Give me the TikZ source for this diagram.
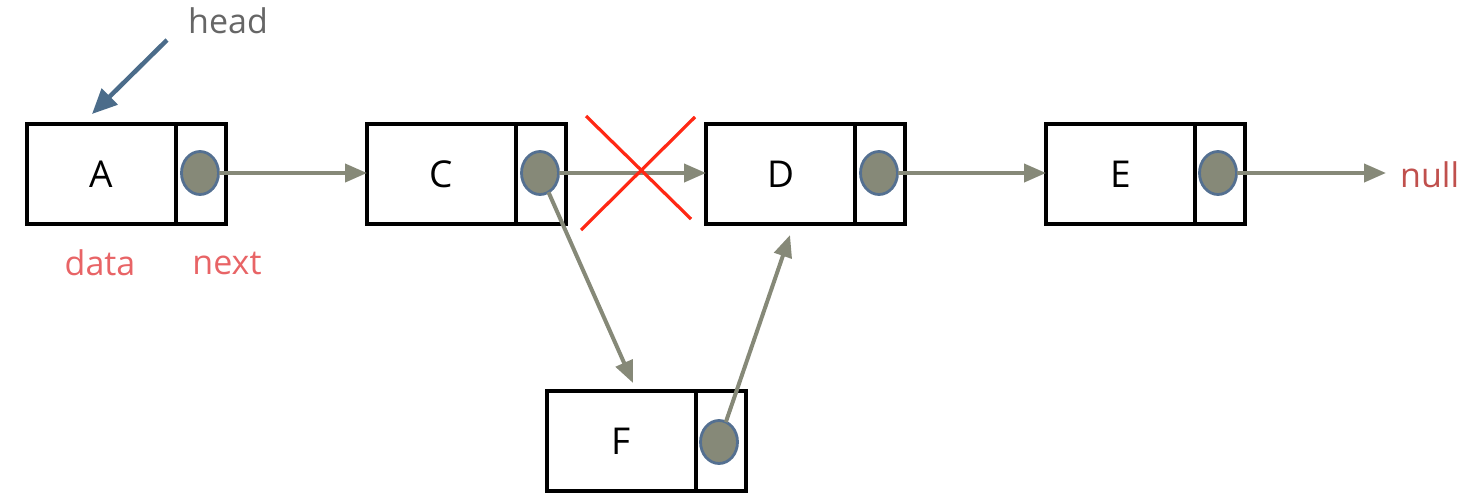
\documentclass[tikz,border=0pt]{standalone}
\usepackage{fontspec}
\setmainfont{Open Sans}
\usetikzlibrary{arrows.meta,shapes.geometric}
\definecolor{ptr}{RGB}{134,137,120}
\definecolor{ptrb}{RGB}{84,112,145}
\definecolor{headc}{RGB}{75,108,138}
\definecolor{lblc}{RGB}{232,100,102}
\definecolor{nullc}{RGB}{192,80,77}
\definecolor{xred}{RGB}{255,40,20}
\definecolor{graytxt}{RGB}{102,102,102}
\begin{document}
\begin{tikzpicture}[x=1pt,y=-1pt]
\tikzset{
  databox/.style={draw, line width=3.8pt, outer sep=0pt, inner sep=0pt, minimum width=149pt, minimum height=100pt, anchor=north west, font=\fontsize{37}{40}\selectfont},
  nextbox/.style={draw, line width=3.8pt, outer sep=0pt, inner sep=0pt, minimum width=50pt, minimum height=100pt, anchor=west},
  dot/.style={ellipse, draw=ptrb, line width=2.8pt, fill=ptr, minimum width=37pt, minimum height=43pt, inner sep=0pt, outer sep=0pt},
  link/.style={draw=ptr, line width=4pt, -{Triangle[length=22pt,width=18pt]}},
  headlink/.style={draw=headc, line width=4.5pt, -{Triangle[length=25pt,width=22pt]}},
  lbl/.style={font=\fontsize{34}{38}\selectfont, inner sep=0pt},
  cross/.style={draw=xred, line width=3.2pt},
}
\useasboundingbox (0,0) rectangle (1466,496);
% list nodes
\node[databox] (A) at (27,124) {A};
\node[nextbox] (An) at (A.east) {};
\node[dot] (Ad) at (200,173) {};
\node[databox] (C) at (367,124) {C};
\node[nextbox] (Cn) at (C.east) {};
\node[dot] (Cd) at (540,173) {};
\node[databox] (D) at (706,124) {D};
\node[nextbox] (Dn) at (D.east) {};
\node[dot] (Dd) at (879,173) {};
\node[databox] (E) at (1046,124) {E};
\node[nextbox] (En) at (E.east) {};
\node[dot] (Ed) at (1218,173) {};
\node[databox] (F) at (547,391) {F};
\node[nextbox] (Fn) at (F.east) {};
\node[dot] (Fd) at (719,442) {};
% labels
\node[lbl, text=graytxt] (head) at (228,21) {head};
\node[lbl, text=lblc] (data) at (100,263) {data};
\node[lbl, text=lblc] (next) at (227,263) {next};
\node[lbl, text=nullc, anchor=west] (null) at (1400,175) {null};
% coordinates
\coordinate (hs) at (167,40);
\coordinate (ht) at (92,114);
\coordinate (Ftip) at (633,383);
\coordinate (Dtip) at (790,235);
\coordinate (Ntip) at (1386,173);
% connectors
\draw[headlink] (hs) -- (ht);
\draw[link] (Ad) -- (C.west |- Ad);
\draw[link] (Cd) -- (D.west |- Cd);
\draw[link] (Dd) -- (E.west |- Dd);
\draw[link] (Ed) -- (Ntip);
\draw[link] (Cd) -- (Ftip);
\draw[link] (Fd) -- (Dtip);
% red cross
\coordinate (x1) at (586,116);
\coordinate (x2) at (691,219);
\coordinate (x3) at (695,117);
\coordinate (x4) at (581,230);
\draw[cross] (x1) -- (x2);
\draw[cross] (x3) -- (x4);
\end{tikzpicture}
\end{document}
